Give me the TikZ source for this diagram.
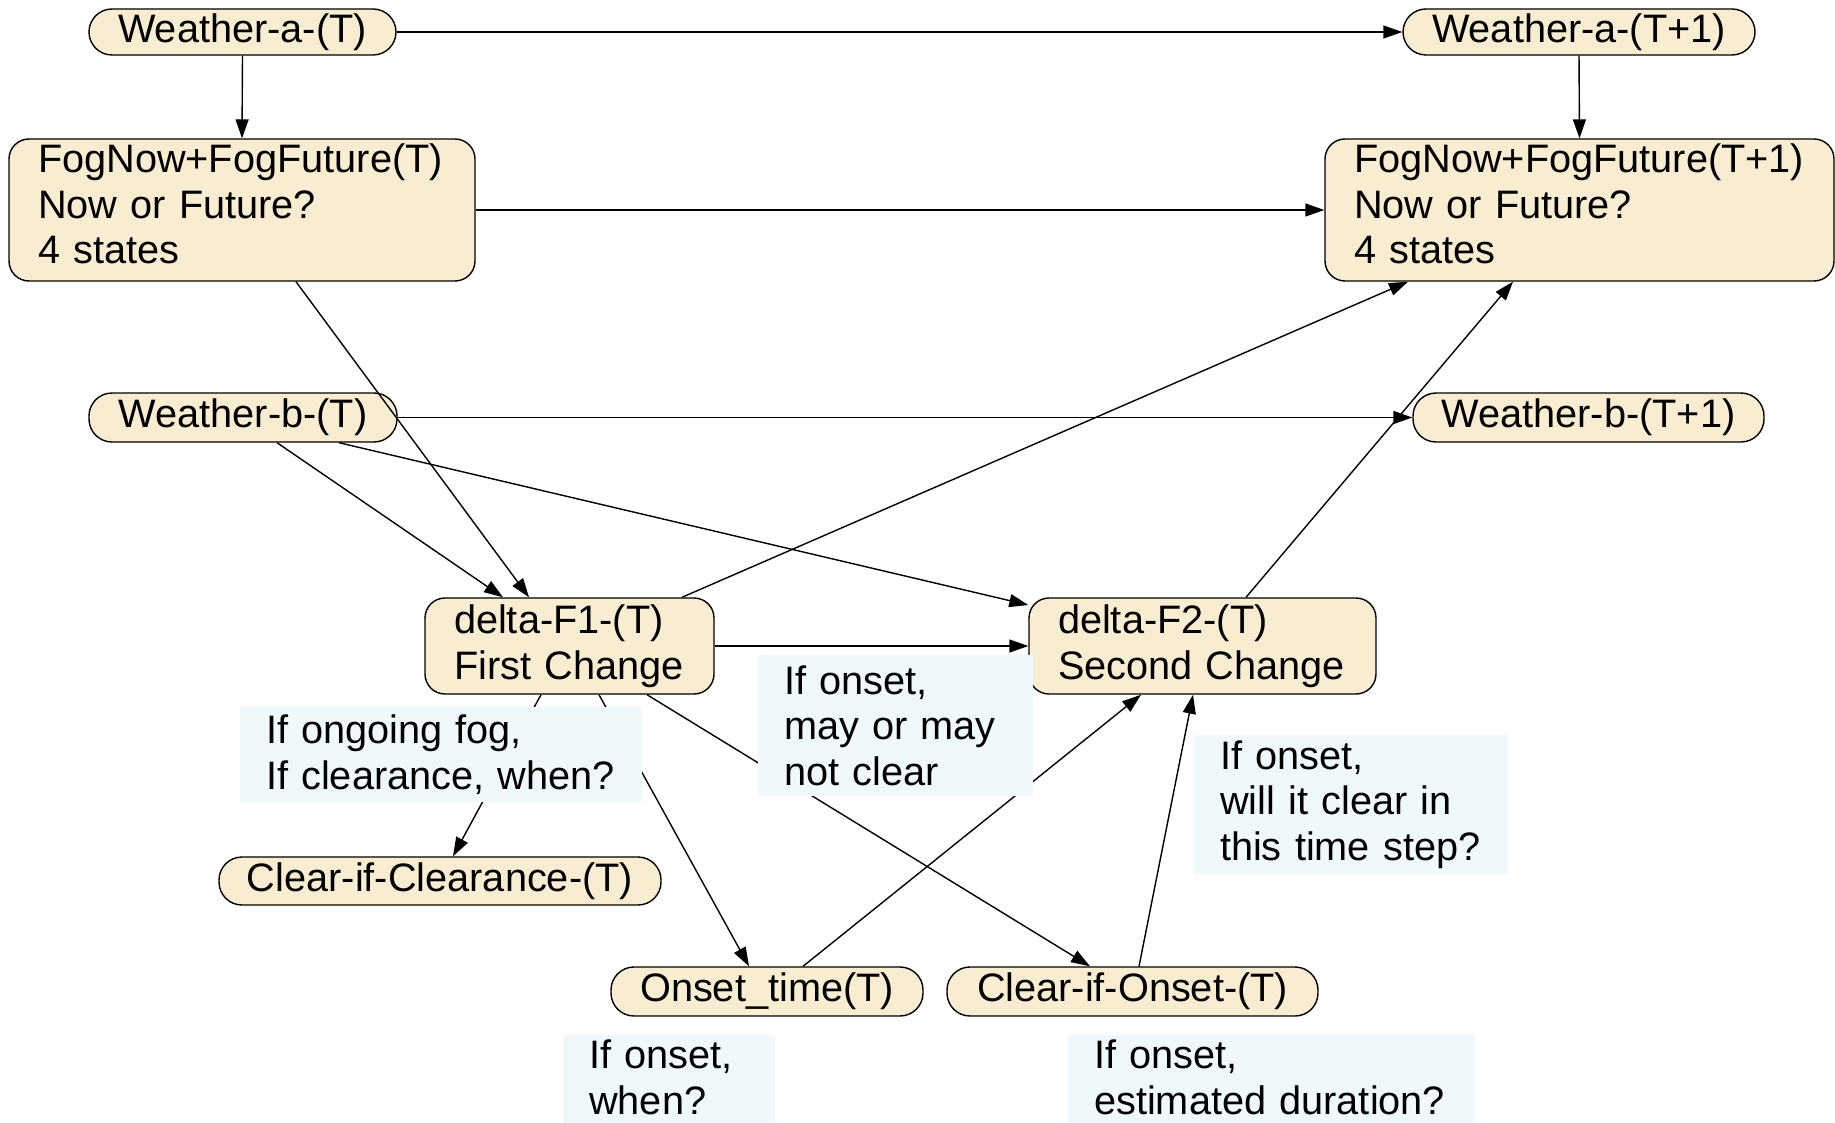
\documentclass[tikz,border=0pt]{standalone}
\usepackage{fontspec}
\setmainfont{Liberation Sans}
\usetikzlibrary{arrows.meta,calc}
\definecolor{nodefill}{RGB}{248,237,208}
\definecolor{notefill}{RGB}{239,248,250}
\begin{document}
\begin{tikzpicture}[x=1pt,y=-1pt,
  every node/.style={font=\fontsize{39.7}{45.5}\selectfont, inner sep=0pt},
  link/.style={line width=1.4pt, -{Triangle[length=19pt,width=13pt]}},
  pill/.style={draw, line width=1.4pt, fill=nodefill, rounded corners=23pt, align=center},
  card/.style={draw, line width=1.4pt, fill=nodefill, rounded corners=20pt, align=left, inner xsep=29pt},
  note/.style={fill=notefill, align=left, inner xsep=26pt},
]
\useasboundingbox (0,0) rectangle (1835,1123);
\fill[white] (0,0) rectangle (1835,1123);
\clip (0,0) rectangle (1835,1123);

% time slice T and T+1 variables
\node[pill, minimum width=307pt, minimum height=46pt] (wa)  at (242.5,32) {Weather-a-(T)};
\node[pill, minimum width=352pt, minimum height=46pt] (wa1) at (1579,32) {Weather-a-(T+1)};
\node[card, text width=408pt, minimum height=142pt, text depth=103pt] (fog)  at (242,210) {FogNow+FogFuture(T)\\Now or Future?\\4 states};
\node[card, text width=451pt, minimum height=142pt, text depth=103pt] (fog1) at (1579.5,210) {FogNow+FogFuture(T+1)\\Now or Future?\\4 states};
\node[pill, minimum width=308pt, minimum height=49pt] (wb)  at (243,417.5) {Weather-b-(T)};
\node[pill, minimum width=351pt, minimum height=49pt] (wb1) at (1588.5,417.5) {Weather-b-(T+1)};
\node[card, text width=231pt, minimum height=96pt] (df1) at (569.5,646) {delta-F1-(T)\\First Change};
\node[card, text width=289pt, minimum height=96pt] (df2) at (1202.5,646) {delta-F2-(T)\\Second Change};
\node[pill, minimum width=442pt, minimum height=48pt] (cc) at (440,881) {Clear-if-Clearance-(T)};
\node[pill, minimum width=312pt, minimum height=49pt] (ot) at (767,991.5) {Onset\_time(T)};
\node[pill, minimum width=371pt, minimum height=49pt] (co) at (1132.5,991.5) {Clear-if-Onset-(T)};

% dependencies
\draw[link] (wa.south) -- (fog.north);
\draw[link] (wa.east) -- (wa1.west);
\draw[link] (wa1.south) -- (fog1.north);
\draw[link] (fog.east) -- (fog1.west);
\draw[link] ($(fog.south)+(54,0)$) -- ($(df1.north)+(-40.5,0)$);
\draw[link] (wb.east) -- (wb1.west);
\draw[link] ($(wb.south)+(34,0)$) -- ($(df1.north)+(-66.5,0)$);
\draw[link] ($(wb.south)+(96,0)$) -- ($(df2.west)+(0,-41)$);
\draw[link] ($(df1.north)+(112.5,0)$) -- ($(fog1.south)+(-171.5,0)$);
\draw[link] (df1.east) -- (df2.west);
\draw[link] ($(df2.north)+(43.5,0)$) -- ($(fog1.south)+(-66.5,0)$);
\draw[link] ($(df1.south)+(-28.5,0)$) -- ($(cc.north)+(13,0)$);
\draw[link] ($(df1.south)+(29.5,0)$) -- ($(ot.north)+(-18,0)$);
\draw[link] ($(df1.south)+(77.5,0)$) -- ($(co.north)+(-42.5,0)$);
\draw[link] ($(ot.north)+(36,0)$) -- ($(df2.south)+(-61.5,0)$);
\draw[link] ($(co.north)+(6.5,0)$) -- ($(df2.south)+(-9.5,0)$);

% explanatory notes, laid over the links
\node[note, text width=350pt, minimum height=95pt] (n1) at (441,754.5) {If ongoing fog,\\If clearance, when?};
\node[note, text width=223pt, minimum height=141pt] (n2) at (895.5,725.5) {If onset,\\may or may\\not clear};
\node[note, text width=262pt, minimum height=139pt] (n3) at (1351,804.5) {If onset,\\will it clear in\\this time step?};
\node[note, anchor=north west, text width=160pt, inner ysep=5pt, text depth=70pt] (n4) at (563,1035) {If onset,\\when?};
\node[note, anchor=north west, text width=355pt, inner ysep=5pt, text depth=70pt] (n5) at (1068,1035) {If onset,\\estimated duration?};
\end{tikzpicture}
\end{document}
